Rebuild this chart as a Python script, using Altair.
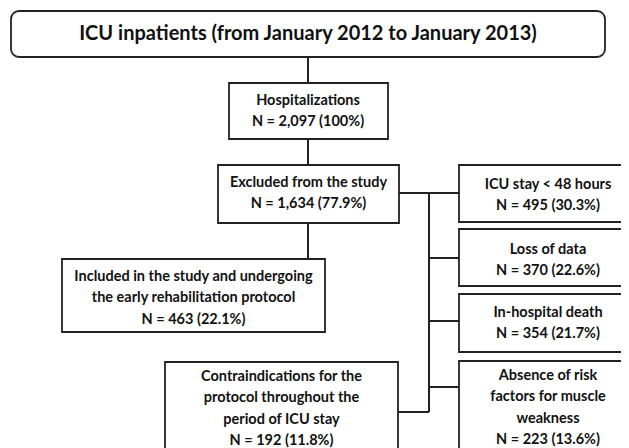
import altair as alt
import pandas as pd

# ---- data ----
title_text = "ICU inpatients (from January 2012 to January 2013)"
box_ids = ["hosp", "excl", "incl", "icu", "loss", "death", "risk", "contra"]
box_titles = [
    ["Hospitalizations"],
    ["Excluded from the study"],
    ["Included in the study and undergoing", "the early rehabilitation protocol"],
    ["ICU stay < 48 hours"],
    ["Loss of data"],
    ["In-hospital death"],
    ["Absence of risk", "factors for muscle", "weakness"],
    ["Contraindications for the", "protocol throughout the", "period of ICU stay"],
]
counts = [2097, 1634, 463, 495, 370, 354, 223, 192]
percents = ["100", "77.9", "22.1", "30.3", "22.6", "21.7", "13.6", "11.8"]

# ---- layout (page pixel coordinates) ----
box_x1 = [229, 218, 62, 459, 459, 459, 459, 165]
box_x2 = [388, 399, 325, 640, 640, 640, 640, 398]
box_y1 = [83, 165, 259, 165, 229, 294, 361, 362]
box_y2 = [139, 223, 332, 222, 286, 352, 470, 470]
text_cx = [308, 308.5, 193.5, 548, 548, 548, 548, 281.5]
text_y0 = [101, 183, 277, 185, 250, 313, 376, 377]
line_gap = 21.3

boxes = pd.DataFrame({"id": box_ids, "x1": box_x1, "x2": box_x2, "y1": box_y1, "y2": box_y2})

text_rows = []
for i, lines in enumerate(box_titles):
    all_lines = lines + [f"N = {counts[i]:,} ({percents[i]}%)"]
    for j, t in enumerate(all_lines):
        text_rows.append({"x": text_cx[i], "y": text_y0[i] + j * line_gap, "t": t})
texts = pd.DataFrame(text_rows)

seg_x1 = [308, 308, 308, 399, 429, 429, 429, 429, 398]
seg_x2 = [308, 308, 308, 459, 429, 459, 459, 459, 429]
seg_y1 = [57, 139, 223, 193, 193, 258, 321, 387, 412]
seg_y2 = [83, 165, 259, 193, 412, 258, 321, 387, 412]
segs = pd.DataFrame({"x1": seg_x1, "x2": seg_x2, "y1": seg_y1, "y2": seg_y2})

top = pd.DataFrame({"x1": [11], "x2": [605], "y1": [11], "y2": [57], "cx": [308], "cy": [34], "t": [title_text]})

xs = alt.Scale(domain=[8, 621], nice=False, zero=False)
ys = alt.Scale(domain=[8, 448], nice=False, zero=False, reverse=True)
X = lambda f: alt.X(f, type="quantitative", scale=xs, axis=None)
Y = lambda f: alt.Y(f, type="quantitative", scale=ys, axis=None)

FONT = "Lato"
INK = "#222222"

lines_layer = alt.Chart(segs).mark_rule(color=INK, strokeWidth=2, clip=True).encode(
    x=X("x1"), x2="x2", y=Y("y1"), y2="y2"
)
top_box = alt.Chart(top).mark_rect(
    fill="white", stroke=INK, strokeWidth=1.8, cornerRadius=8, clip=True
).encode(x=X("x1"), x2="x2", y=Y("y1"), y2="y2")
top_text = alt.Chart(top).mark_text(
    font=FONT, fontSize=20, fontWeight="bold", color="#111", align="center", baseline="middle"
).encode(x=X("cx"), y=Y("cy"), text="t")
box_layer = alt.Chart(boxes).mark_rect(
    fill="white", stroke=INK, strokeWidth=1.8, clip=True
).encode(x=X("x1"), x2="x2", y=Y("y1"), y2="y2")
text_layer = alt.Chart(texts).mark_text(
    font=FONT, fontSize=14.5, fontWeight="bold", color="#111", align="center", baseline="middle", clip=True
).encode(x=X("x"), y=Y("y"), text="t")

chart = alt.layer(lines_layer, top_box, box_layer, top_text, text_layer).properties(
    width=613, height=440, autosize=alt.AutoSizeParams(type="none"), padding=0
).configure_view(stroke=None)

chart.save("out.html", embed_options={"renderer": "svg", "actions": False})
